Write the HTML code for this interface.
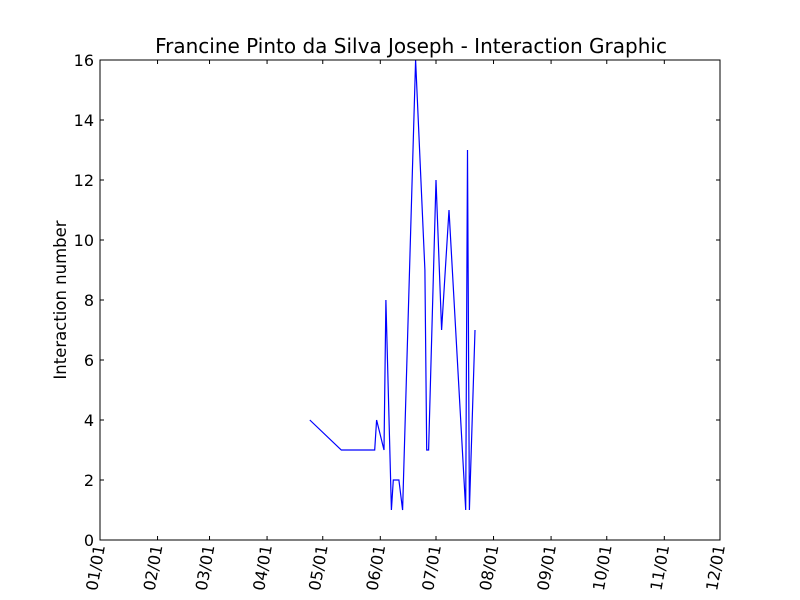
<!DOCTYPE html>
<html><head><meta charset="utf-8"><style>
body{margin:0;background:#fff;}
svg{display:block;font-family:"DejaVu Sans","Liberation Sans",sans-serif;}
</style></head><body>
<svg id="chart" width="800" height="600">
<rect width="800" height="600" fill="#fff"/>
<text x="411" y="53" font-size="20" text-anchor="middle">Francine Pinto da Silva Joseph - Interaction Graphic</text>
<text transform="translate(66,300) rotate(-90)" font-size="16.5" text-anchor="middle">Interaction number</text>
<g id="ticks"></g>
<polyline id="series" fill="none" stroke="#0000ff" stroke-width="1.2"/>
<rect x="100" y="60" width="620" height="480" fill="none" stroke="#000" stroke-width="1"/>
</svg>
<script>
const dates=["04-24","05-11","05-29","05-30","06-03","06-04","06-07","06-08","06-11","06-13","06-20","06-25","06-26","06-27","07-01","07-04","07-08","07-17","07-18","07-19","07-22"];
const values=[4,3,3,4,3,8,1,2,2,1,16,9,3,3,12,7,11,1,13,1,7];
const yTicks=[0,2,4,6,8,10,12,14,16];
const xTickLabels=["01/01","02/01","03/01","04/01","05/01","06/01","07/01","08/01","09/01","10/01","11/01","12/01"];
const cum=[0,31,59,90,120,151,181,212,243,273,304,334];
function doy(s){const [m,d]=s.split("-").map(Number);return cum[m-1]+d-1;}
const X=d=>100+d/334*620;
const Y=v=>540-v/16*480;
const ns="http://www.w3.org/2000/svg";
const g=document.getElementById("ticks");
function mk(t,a){const e=document.createElementNS(ns,t);for(const k in a)e.setAttribute(k,a[k]);return e;}
yTicks.forEach(v=>{
  const y=Y(v);
  const l1=mk("line",{x1:100,x2:104,y1:y,y2:y,stroke:"#000"});
  
  
  g.appendChild(l1);
  const l2=mk("line",{x1:716,x2:720,y1:y,y2:y,stroke:"#000"});
  
  
  g.appendChild(l2);
  const t=mk("text",{x:94,y:y+6,"font-size":16,"text-anchor":"end"});
  t.textContent=v;
  
  
  g.appendChild(t);
});
xTickLabels.forEach((lab,i)=>{
  const x=X(cum[i]);
  const l1=mk("line",{x1:x,x2:x,y1:540,y2:536,stroke:"#000"});
  
  
  g.appendChild(l1);
  const l2=mk("line",{x1:x,x2:x,y1:60,y2:64,stroke:"#000"});
  
  
  g.appendChild(l2);
  const t=mk("text",{transform:`translate(${x+5},546) rotate(-80)`,"font-size":16,"text-anchor":"end"});
  t.textContent=lab;
  
  
  g.appendChild(t);
});
document.getElementById("series").setAttribute("points",dates.map((d,i)=>X(doy(d)).toFixed(1)+","+Y(values[i]).toFixed(1)).join(" "));
</script>
</body></html>
